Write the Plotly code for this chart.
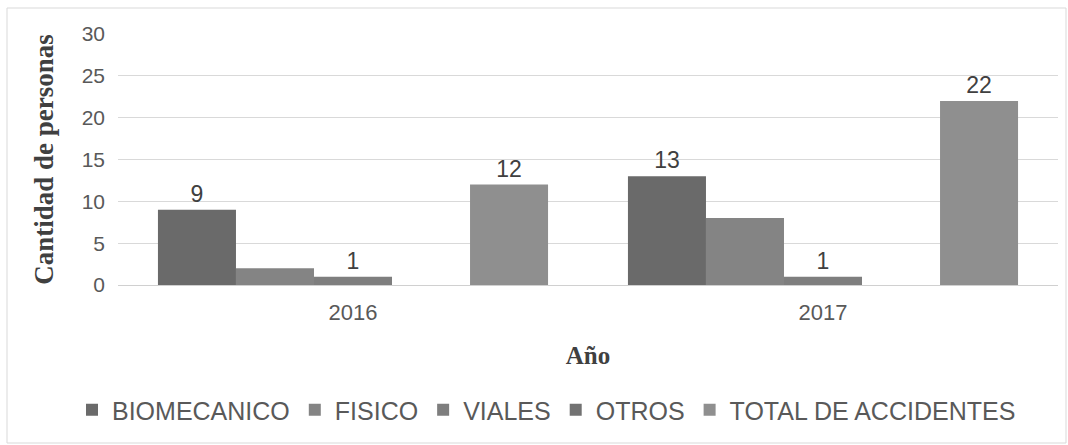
import plotly.graph_objects as go

years = ["2016", "2017"]
series_names = ["BIOMECANICO", "FISICO", "VIALES", "OTROS", "TOTAL DE ACCIDENTES"]
biomecanico = [9, 13]
fisico = [2, 8]
viales = [1, 1]
otros = [0, 0]
total = [12, 22]
show_labels = [True, False, True, False, True]
colors = ["#6a6a6a", "#848484", "#7e7e7e", "#727272", "#8f8f8f"]

values = [biomecanico, fisico, viales, otros, total]

fig = go.Figure()
for name, vals, col, lab in zip(series_names, values, colors, show_labels):
    fig.add_trace(go.Bar(
        name=name, x=years, y=vals,
        marker=dict(color=col, line=dict(width=0)),
        text=[str(v) for v in vals] if lab else None,
        textposition="outside",
        textfont=dict(family="Liberation Sans, Arial", size=23, color="#404040"),
        cliponaxis=False,
    ))

L, R, T, B = 118, 10, 34, 160
W, H = 1068, 445
pw, ph = W - L - R, H - T - B

serif = "Liberation Serif, Times New Roman, serif"

fig.update_layout(
    width=W, height=H,
    margin=dict(l=L, r=R, t=T, b=B, autoexpand=False),
    barmode="group", bargap=0.17, bargroupgap=0,
    plot_bgcolor="white", paper_bgcolor="white",
    font=dict(family="Liberation Sans, Arial", size=20, color="#595959"),
    xaxis=dict(
        showgrid=False, showline=True, linecolor="#d0d0d0", linewidth=1,
        ticks="", tickfont=dict(size=22, color="#595959"), automargin=False,
        ticklabelstandoff=8,
        title=dict(text="<b>Año</b>", font=dict(family=serif, size=25, color="#404040"), standoff=22),
    ),
    yaxis=dict(
        range=[0, 30], dtick=5, showgrid=True, gridcolor="#d9d9d9", gridwidth=1,
        zeroline=False, showline=False, ticks="", automargin=False,
        tickfont=dict(size=21, color="#595959"), ticklabelstandoff=12,
        title=dict(text="<b>Cantidad de personas</b>", font=dict(family=serif, size=27, color="#404040"), standoff=20),
    ),
    legend=dict(
        orientation="h", x=(72 - L) / pw, xanchor="left", y=-(410 - (T + ph)) / ph, yanchor="middle",
        font=dict(size=25, color="#595959"), itemwidth=30, traceorder="normal",
    ),
    shapes=[dict(
        type="rect", xref="paper", yref="paper",
        x0=(7 - L) / pw, x1=(1066 - L) / pw,
        y0=-(443 - (T + ph)) / ph, y1=1 + (T - 8) / ph,
        line=dict(color="#d9d9d9", width=1), fillcolor="rgba(0,0,0,0)", layer="below",
    )],
)

fig.write_html("out.html", config={"displayModeBar": False},
               post_script="document.body.style.margin='0';")
